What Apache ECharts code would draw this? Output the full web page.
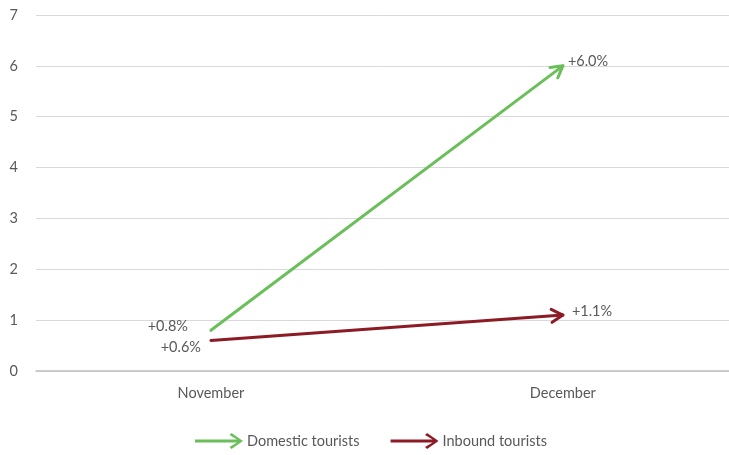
<!DOCTYPE html>
<html>
<head>
<meta charset="utf-8">
<script src="https://cdn.jsdelivr.net/npm/echarts@6/dist/echarts.min.js"></script>
<style>
  html, body { margin: 0; padding: 0; background: #ffffff; }
  #chart { width: 729px; height: 455px; }
</style>
</head>
<body>
<div id="chart"></div>
<script>
// Month-on-month change in tourist numbers (%)
const categories = ['November', 'December'];
const domestic = [0.8, 6.0];
const inbound = [0.6, 1.1];
const seriesNames = ['Domestic tourists', 'Inbound tourists'];
const yTicks = [0, 1, 2, 3, 4, 5, 6, 7];

const GREEN = '#6bbf5b';
const RED = '#8c1b26';
const TEXT = '#595959';
const FONT = 'Lato, "Open Sans", sans-serif';
const FS = 14.5;

// Right-pointing arrow used as the legend icon
const ARROW_ICON = 'path://M0 6.5 L42 6.5 L34.5 2 L36.5 0 L48 8 L36.5 16 L34.5 14 L42 9.5 L0 9.5 Z';

const fmt = v => (v >= 0 ? '+' : '') + v.toFixed(1) + '%';

// Draws a straight arrow from the first month to the second, with value labels
function makeArrowRenderer(color, startLabelOffset, endLabelOffset) {
  return function (params, api) {
    const p0 = api.coord([api.value(0), api.value(1)]);
    const p1 = api.coord([api.value(0) + 1, api.value(2)]);
    const dx = p1[0] - p0[0], dy = p1[1] - p0[1];
    const len = Math.sqrt(dx * dx + dy * dy);
    const ux = -dx / len, uy = -dy / len; // unit vector pointing back along the line
    const headLen = 13, half = Math.PI / 6;
    const rot = (x, y, a) => [x * Math.cos(a) - y * Math.sin(a), x * Math.sin(a) + y * Math.cos(a)];
    const a1 = rot(ux, uy, half), a2 = rot(ux, uy, -half);
    const lineStyle = { stroke: color, lineWidth: 3, fill: null, lineCap: 'round', lineJoin: 'round' };
    return {
      type: 'group',
      children: [
        { type: 'line', shape: { x1: p0[0], y1: p0[1], x2: p1[0], y2: p1[1] }, style: lineStyle },
        {
          type: 'polyline',
          shape: { points: [
            [p1[0] + a1[0] * headLen, p1[1] + a1[1] * headLen],
            [p1[0], p1[1]],
            [p1[0] + a2[0] * headLen, p1[1] + a2[1] * headLen]
          ] },
          style: lineStyle
        },
        {
          type: 'text',
          x: p0[0] + startLabelOffset[0], y: p0[1] + startLabelOffset[1],
          style: { text: fmt(api.value(1)), fill: TEXT, font: FS + 'px ' + FONT, align: 'right', verticalAlign: 'middle' }
        },
        {
          type: 'text',
          x: p1[0] + endLabelOffset[0], y: p1[1] + endLabelOffset[1],
          style: { text: fmt(api.value(2)), fill: TEXT, font: FS + 'px ' + FONT, align: 'left', verticalAlign: 'middle' }
        }
      ]
    };
  };
}

const chart = echarts.init(document.getElementById('chart'), null, { renderer: 'canvas' });

chart.setOption({
  animation: false,
  backgroundColor: '#ffffff',
  grid: { left: 36, top: 15, right: 0, height: 356, containLabel: false },
  legend: {
    top: 428,
    left: 190,
    itemWidth: 48,
    itemHeight: 16,
    itemGap: 31,
    icon: ARROW_ICON,
    textStyle: { color: TEXT, fontSize: FS, fontFamily: FONT, padding: [0, 0, 0, -1] },
    data: seriesNames
  },
  // Month axis: each month sits in the middle of its half of the plot
  xAxis: {
    type: 'value',
    min: -0.497,
    max: 1.472,
    axisLine: { show: true, onZero: false, lineStyle: { color: '#bfbfbf', width: 1.5 } },
    axisTick: { show: false },
    axisLabel: {
      color: TEXT, fontSize: FS, fontFamily: FONT, margin: 15,
      customValues: categories.map((c, i) => i),
      formatter: v => categories[Math.round(v)] || ''
    },
    splitLine: { show: false }
  },
  yAxis: {
    type: 'value',
    min: yTicks[0],
    max: yTicks[yTicks.length - 1],
    interval: 1,
    axisLine: { show: false },
    axisTick: { show: false },
    axisLabel: { color: TEXT, fontSize: FS, fontFamily: FONT, margin: 18, align: 'right' },
    splitLine: { lineStyle: { color: '#d9d9d9', width: 1 } }
  },
  series: [
    {
      name: seriesNames[0],
      type: 'custom',
      itemStyle: { color: GREEN },
      encode: { x: 0, y: [1, 2] },
      data: [[0, domestic[0], domestic[1]]],
      renderItem: makeArrowRenderer(GREEN, [-23, -4], [5, -5])
    },
    {
      name: seriesNames[1],
      type: 'custom',
      itemStyle: { color: RED },
      encode: { x: 0, y: [1, 2] },
      data: [[0, inbound[0], inbound[1]]],
      renderItem: makeArrowRenderer(RED, [-10, 7], [9, -4])
    }
  ]
});
</script>
</body>
</html>
